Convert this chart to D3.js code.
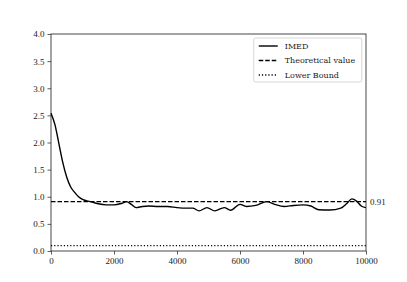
<!DOCTYPE html>
<html>
<head>
<meta charset="utf-8">
<script src="https://cdn.jsdelivr.net/npm/d3@7"></script>
<style>
  body { margin: 0; background: white; }
  text { font-family: "Liberation Serif", "DejaVu Serif", serif; }
</style>
</head>
<body>
<svg width="407" height="282"></svg>
<script>
// IMED curve
const steps = [0, 125, 250, 375, 500, 625, 750, 875, 1000, 1250, 1500, 1750, 2000, 2250, 2400, 2550, 2700, 2900, 3100, 3400, 3700, 4000, 4300, 4500, 4700, 4950, 5200, 5500, 5700, 6000, 6200, 6500, 6850, 7100, 7400, 7700, 8000, 8250, 8500, 8850, 9200, 9400, 9550, 9700, 9850, 10000];
const imed = [2.54, 2.33, 1.98, 1.63, 1.36, 1.18, 1.08, 1.0, 0.95, 0.91, 0.87, 0.85, 0.85, 0.88, 0.91, 0.86, 0.80, 0.82, 0.83, 0.82, 0.82, 0.80, 0.79, 0.79, 0.74, 0.80, 0.74, 0.80, 0.75, 0.86, 0.82, 0.84, 0.91, 0.86, 0.82, 0.84, 0.85, 0.83, 0.76, 0.755, 0.79, 0.88, 0.96, 0.92, 0.83, 0.80];
const theoretical = 0.91;
const lowerBound = 0.1;
const xTicks = [0, 2000, 4000, 6000, 8000, 10000];
const yTicks = [0, 0.5, 1, 1.5, 2, 2.5, 3, 3.5, 4];
const legendLabels = ['IMED', 'Theoretical value', 'Lower Bound'];

const margin = { top: 34, right: 41, bottom: 31, left: 51 };
const width = 407, height = 282;
const svg = d3.select('svg');
const g = svg.append('g').attr('transform', `translate(${margin.left},${margin.top})`);
const w = width - margin.left - margin.right;
const h = height - margin.top - margin.bottom;

const x = d3.scaleLinear().domain([0, 10000]).range([0, w]);
const y = d3.scaleLinear().domain([0, 4]).range([h, 0]);

// axes
const xAxis = d3.axisBottom(x).tickValues(xTicks).tickFormat(d3.format('d')).tickSize(3.5).tickPadding(3);
const yAxis = d3.axisLeft(y).tickValues(yTicks).tickFormat(d3.format('.1f')).tickSize(3.5).tickPadding(3);
const gx = g.append('g').attr('transform', `translate(0,${h})`).call(xAxis);
const gy = g.append('g').call(yAxis);
[gx, gy].forEach(a => {
  a.select('.domain').remove();
  a.selectAll('.tick line').attr('stroke', '#333').attr('stroke-width', 0.8);
  a.selectAll('.tick text').attr('font-size', '9px').attr('fill', '#222');
});

// frame
g.append('rect').attr('x', 0).attr('y', 0).attr('width', w).attr('height', h)
  .attr('fill', 'none').attr('stroke', '#333').attr('stroke-width', 0.9);

// lower bound and theoretical lines
g.append('line').attr('x1', 0).attr('x2', w).attr('y1', y(lowerBound)).attr('y2', y(lowerBound))
  .attr('stroke', 'black').attr('stroke-width', 1.4).attr('stroke-dasharray', '1.2,2');
g.append('line').attr('x1', 0).attr('x2', w).attr('y1', y(theoretical)).attr('y2', y(theoretical))
  .attr('stroke', 'black').attr('stroke-width', 1.4).attr('stroke-dasharray', '4.5,2');

// IMED curve
const line = d3.line().x((d, i) => x(steps[i])).y(d => y(d)).curve(d3.curveMonotoneX);
g.append('path').datum(imed).attr('fill', 'none').attr('stroke', 'black').attr('stroke-width', 1.4).attr('d', line);

// value label at right
g.append('text').attr('x', w + 4).attr('y', y(theoretical)).attr('dy', '0.33em')
  .attr('font-size', '9px').attr('fill', '#222').text(d3.format('.2f')(theoretical));

// legend
const lg = g.append('g').attr('transform', `translate(${x(6500) - 2},4)`);
lg.append('rect').attr('x', 0).attr('y', 0).attr('width', 108).attr('height', 44).attr('rx', 2)
  .attr('fill', 'white').attr('stroke', '#ccc').attr('stroke-width', 0.8);
const dashes = [null, '4.5,2', '1.2,2'];
legendLabels.forEach((lab, i) => {
  const yy = 8 + i * 14.5;
  lg.append('line').attr('x1', 5).attr('x2', 24).attr('y1', yy).attr('y2', yy)
    .attr('stroke', 'black').attr('stroke-width', 1.4).attr('stroke-dasharray', dashes[i]);
  lg.append('text').attr('x', 31).attr('y', yy).attr('dy', '0.33em')
    .style('font-family', '"DejaVu Serif", serif')
    .attr('font-size', '8px').attr('fill', '#222').text(lab);
});
</script>
</body>
</html>
